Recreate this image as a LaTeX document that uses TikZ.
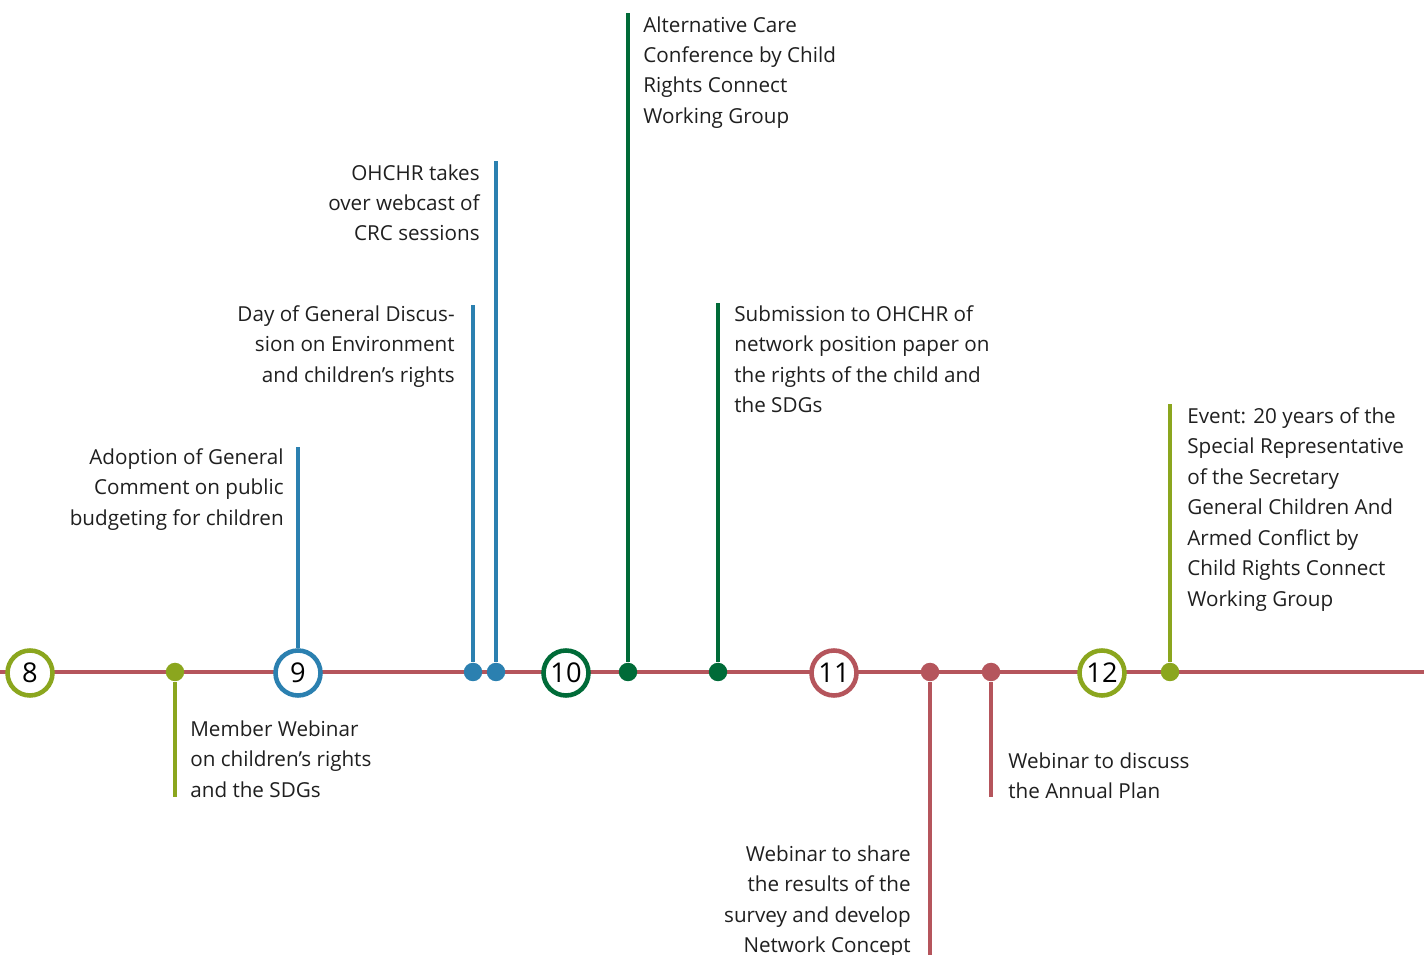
\documentclass[tikz,border=0pt]{standalone}
\usepackage{fontspec}
\setmainfont{Open Sans}
\usetikzlibrary{positioning}
\definecolor{tlred}{HTML}{B5555C}
\definecolor{tlolive}{HTML}{8BA61E}
\definecolor{tlblue}{HTML}{2B80B0}
\definecolor{tlgreen}{HTML}{006B38}

\begin{document}
\begin{tikzpicture}[
			     x=0.02cm, y=-0.02cm,
			     every node/.style={inner sep=0pt},
			     timeline/.style={line width=2.8pt, draw=tlred},
			     stem/.style={line width=2.3pt, draw=#1},
			     month/.style={circle, draw=#1, fill=white, line width=2.6pt, minimum size=0.9cm, font=\fontsize{15.5}{18}\selectfont},
			     event/.style={circle, fill=#1, minimum size=0.37cm},
			     txt/.style={font=\fontsize{11.75}{17.35}\selectfont, text=black!88}
			     ]
\useasboundingbox (0,0) rectangle (1424,955);
\coordinate (start) at (0,672);
\coordinate (end) at (1424,672);
\path[timeline] (start) -- (end);
%
\coordinate (s1) at (175,797);
\coordinate (s2) at (298,447);
\coordinate (s3) at (473,305);
\coordinate (s4) at (496,161);
\coordinate (s5) at (628,13);
\coordinate (s6) at (718,303);
\coordinate (s7) at (930,955);
\coordinate (s8) at (991,797);
\coordinate (s9) at (1170,404);
%
\node[month=tlolive] (m8) at (30,673) {8};
\node[month=tlblue] (m9) at (298,673) {9};
\node[month=tlgreen] (m10) at (566,673) {10};
\node[month=tlred] (m11) at (834,673) {11};
\node[month=tlolive] (m12) at (1102,673) {12};
%
\node[event=tlolive] (e1) at (175,672) {};
\node[event=tlblue] (e3) at (473,672) {};
\node[event=tlblue] (e4) at (496,672) {};
\node[event=tlgreen] (e5) at (628,672) {};
\node[event=tlgreen] (e6) at (718,672) {};
\node[event=tlred] (e7) at (930,672) {};
\node[event=tlred] (e8) at (991,672) {};
\node[event=tlolive] (e9) at (1170,672) {};
%
\draw[stem=tlolive] (e1) -- (s1);
\draw[stem=tlblue] (m9) -- (s2);
\draw[stem=tlblue] (e3) -- (s3);
\draw[stem=tlblue] (e4) -- (s4);
\draw[stem=tlgreen] (e5) -- (s5);
\draw[stem=tlgreen] (e6) -- (s6);
\draw[stem=tlred] (e7) -- (s7);
\draw[stem=tlred] (e8) -- (s8);
\draw[stem=tlolive] (e9) -- (s9);
%
\node[txt, anchor=north west, align=left] (t1) at (190,720) {Member Webinar\\on children’s rights\\and the SDGs};
\node[txt, anchor=north east, align=right] (t2) at (284,448) {Adoption of General\\Comment on public\\budgeting for children};
\node[txt, anchor=north east, align=right] (t3) at (455,305) {Day of General Discus-\\sion on Environment\\and children’s rights};
\node[txt, anchor=north east, align=right] (t4) at (480,164) {OHCHR takes\\over webcast of\\CRC sessions};
\node[txt, anchor=north west, align=left] (t5) at (643,16) {Alternative Care\\Conference by Child\\Rights Connect\\Working Group};
\node[txt, anchor=north west, align=left] (t6) at (734,305) {Submission to OHCHR of\\network position paper on\\the rights of the child and\\the SDGs};
\node[txt, anchor=north east, align=right] (t7) at (911,845) {Webinar to share\\the results of the\\survey and develop\\Network Concept};
\node[txt, anchor=north west, align=left] (t8) at (1008,752) {Webinar to discuss\\the Annual Plan};
\node[txt, anchor=north west, align=left] (t9) at (1187,407) {Event: 20 years of the\\Special Representative\\of the Secretary\\General Children And\\Armed Conflict by\\Child Rights Connect\\Working Group};
\end{tikzpicture}
\end{document}
